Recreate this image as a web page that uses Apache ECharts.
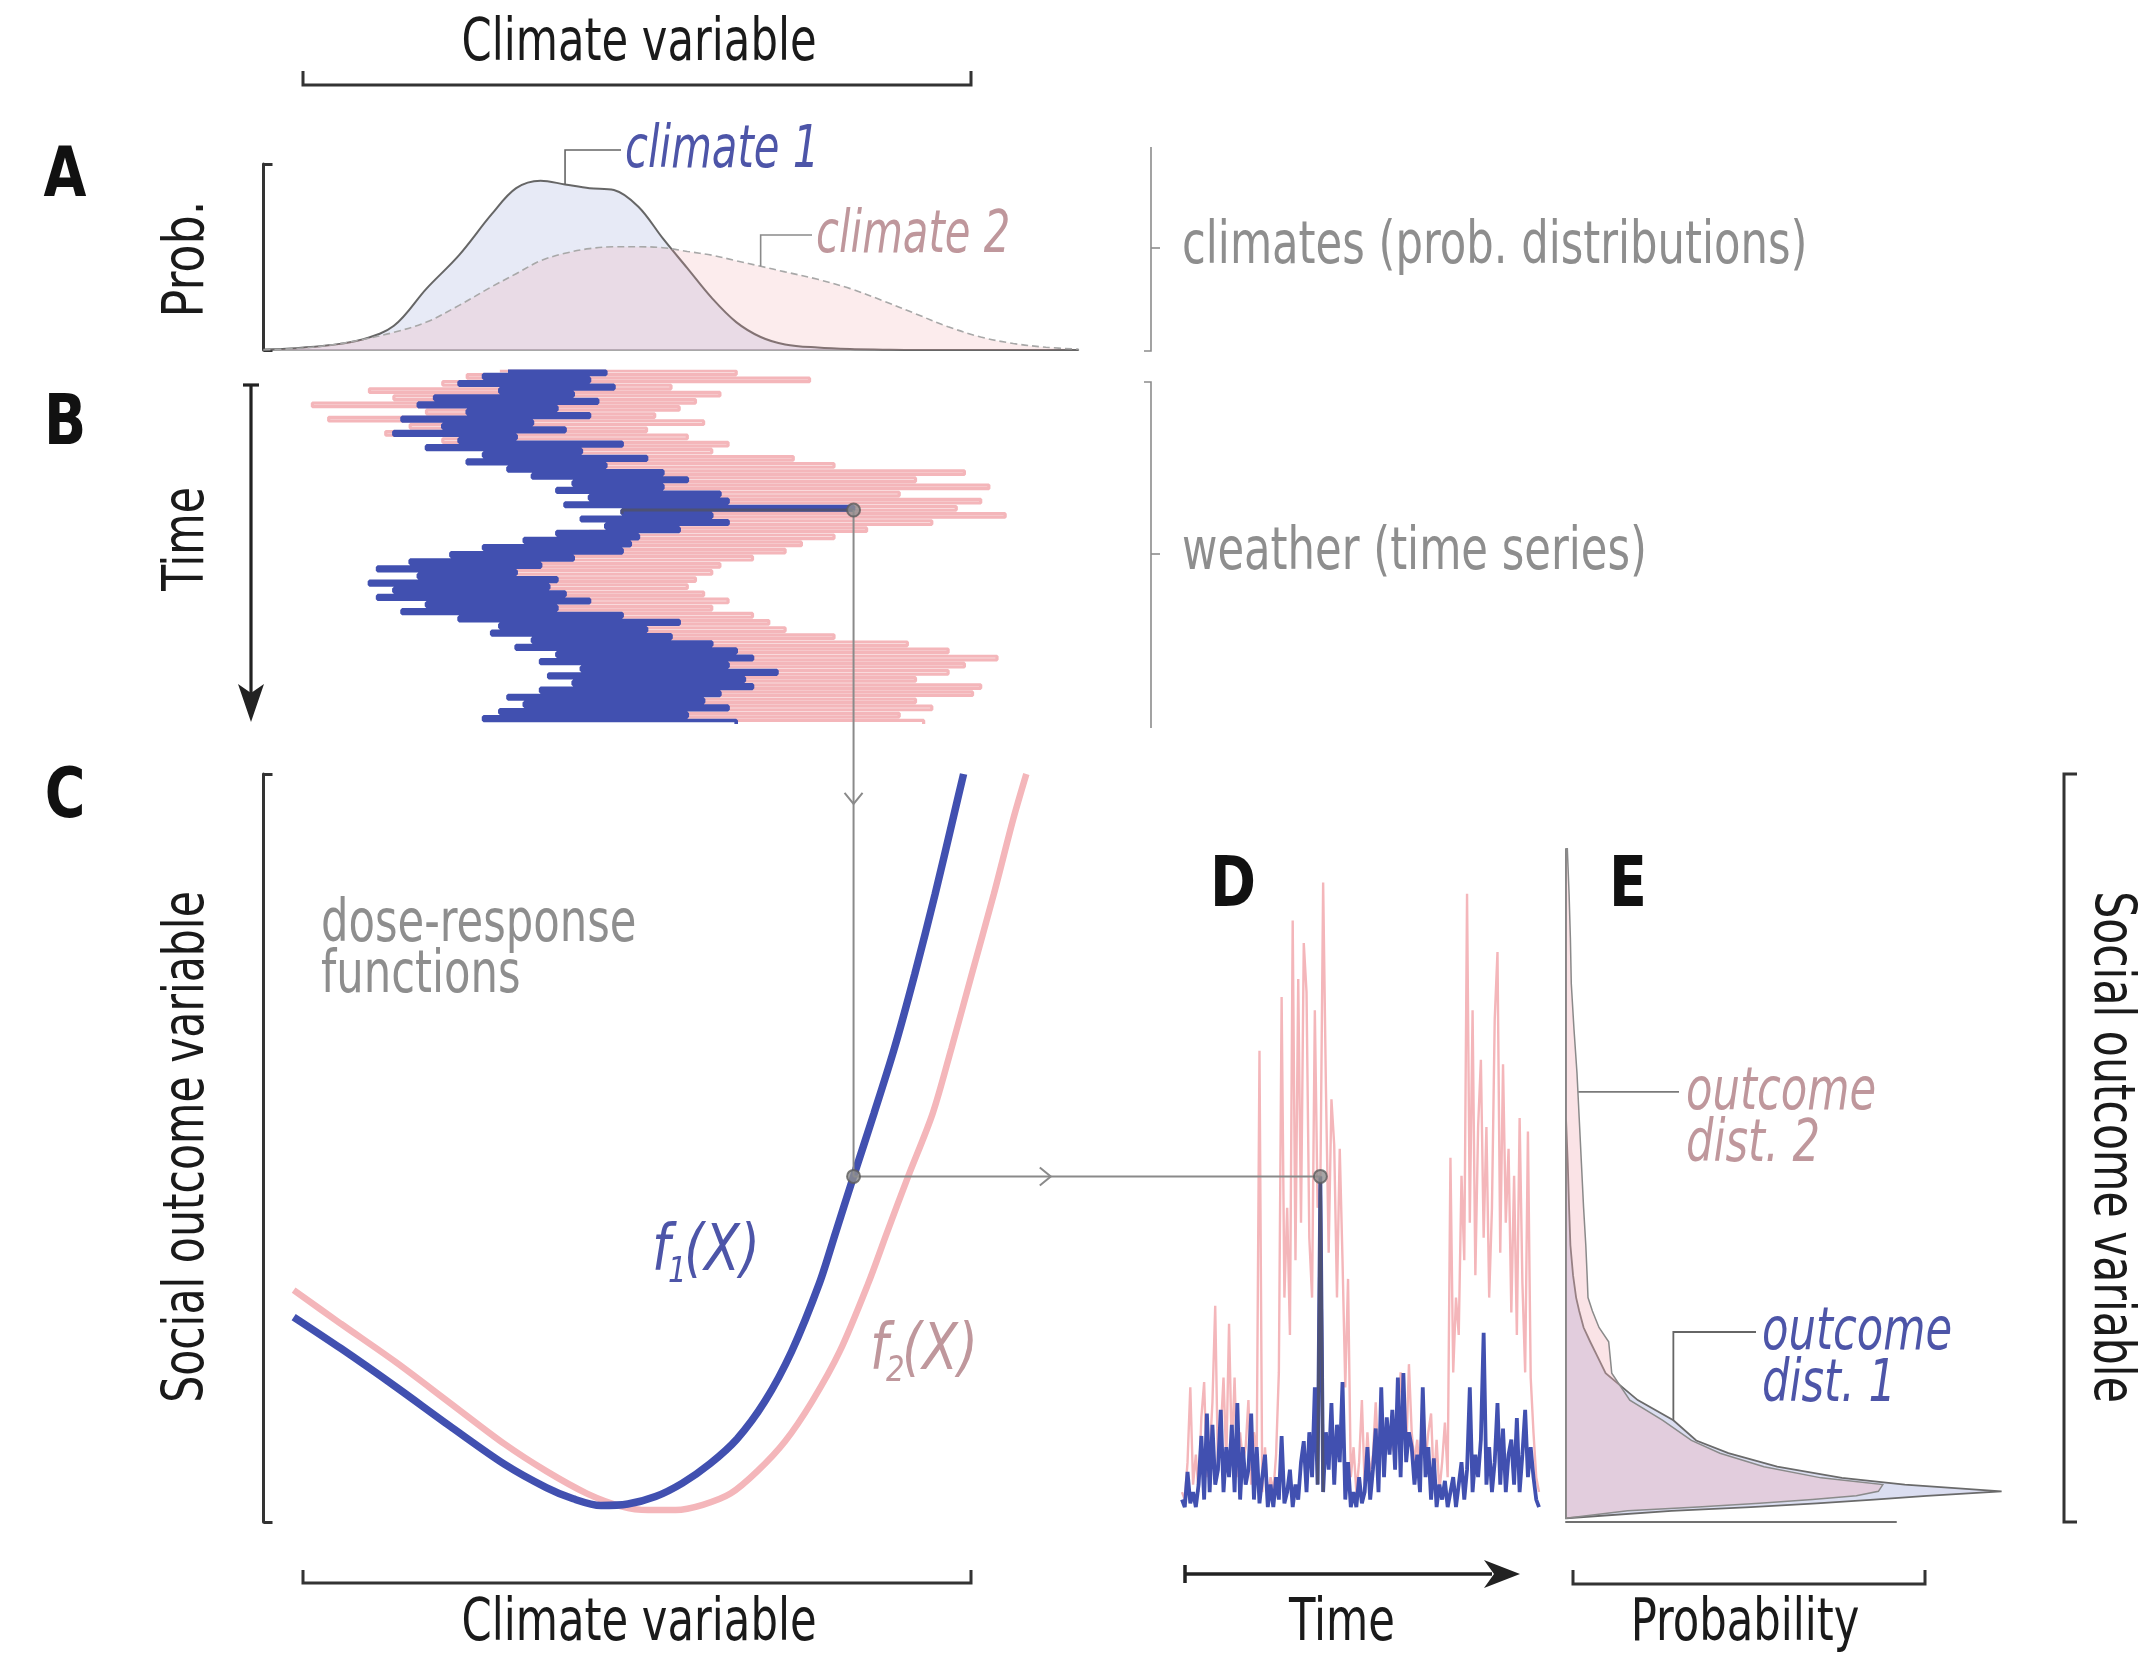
<!DOCTYPE html>
<html><head><meta charset="utf-8">
<script src="https://cdn.jsdelivr.net/npm/echarts@6/dist/echarts.min.js"></script>
<style>html,body{margin:0;padding:0;background:#fff}#c{width:2141px;height:1659px}</style>
</head><body><div id="c"></div>
<script>
// ---------- DATA ----------
// Panel A: climate probability distributions (climate variable 0-100, prob 0-100)
const climateX = [0,4,8,12,16,20,24,28,31,34,37,40,43,46,49,52,55,58,61,64,68,72,76,80,84,88,92,96,100];
const climate1 = [0.3,1,2.5,5.5,13,33,51,73,87,91,89,87,86,77,60,44,28,15,7,3,1.3,0.5,0.2,0,0,0,0,0,0];
const climate2 = [0,0.8,2.5,5.5,9.5,15,24,34,41,48,52,54.5,55.5,55.5,55,53,51,48,45,42,38,33,26.5,19.5,12.5,7,3.5,1.5,0.5];

// Panel B: weather time series (climate variable at time steps 0..99)
const weather1 = [30,42,27,40,24,43,29,38,21,41, 19,36,25,40,17,33,22,37,16,31,
  24,44,20,39,27,47,25,42,30,49, 33,52,38,49,36,56,40,57,37,72.4,
  44,55,39,57,42,51,36,46,32,45, 27,44,23,38,18,34,14,31,19,36,
  13,35,16,37,14,40,20,36,17,44, 24,51,29,47,28,50,33,55,31,58,
  36,60,34,57,39,63,35,59,38,60, 34,56,30,54,32,57,29,52,27,58];
const weather2 = [29,58,25,67,22,50,13,56,16,53, 6,51,20,48,8,54,18,47,15,52,
  22,57,26,55,28,65,31,70,34,86, 40,80,45,89,42,78,47,88,44,85,
  50,91,46,82,43,74,40,70,36,66, 32,64,28,60,24,56,20,55,22,53,
  19,52,21,54,20,57,25,55,27,60, 30,62,33,64,36,70,38,79,41,84,
  44,90,42,86,45,84,43,80,46,88, 42,87,40,80,44,82,38,78,41,81];

// Panel C: dose-response functions (climate variable -> social outcome 0-100)
const f1X = [3.7,9.5,16.2,22.9,29.6,34.7,38.0,41.4,44.7,48.1,51.4,54.8,58.1,61.5,64.8,68.2,70.2,72.4,74.9,77.4,79.9,82.4,84.6,85.9];
const f1Y = [27.4,23.2,18.1,12.8,7.7,4.6,3.1,2.2,2.4,3.4,5.2,7.8,11.1,16.1,22.8,31.9,38.7,46.2,54.6,63.3,73.2,83.9,94.0,100];
const f2X = [3.7,9.5,16.2,22.9,29.6,34.7,39.7,43.9,47.2,50.6,53.9,57.3,60.6,64.0,67.3,70.7,74.2,76.5,79.1,82.1,84.4,86.9,89.6,92.0,93.6];
const f2Y = [31.0,26.5,21.4,15.9,10.4,6.8,3.8,2.1,1.6,1.6,2.3,3.8,6.8,10.8,16.1,22.8,31.9,38.7,46.2,54.6,63.3,73.2,83.9,94.0,100];

// Panel D: outcome time series (time steps 0..129)
const outcome1 = [3,2,6.7,2.5,4,2,5,11.5,3,14.5, 4,13,5,7,15,4,10,6,13,4,
  15.9,3,10,5,7,14.5,3,10,2.5,6, 9,2,5,2,6,3,11.5,2.5,4,7,
  2,5,3,8,10.8,4,12,6,18,5, 46.2,4,12,7,15.9,5,13,8,18.7,3,
  8,2,4,2,6,2.5,4,10,3,7, 12.5,4,18,6,14,9,15,7,19.3,6,
  19.9,8,12,10,5,9,4,18,6,10, 3,8.5,2,5,3,5.5,2,4,6,2,
  5,8,3,7,18,4,9,6,11,25.3, 5,10,4,8,15.9,5,12.5,4,9,11,
  5,13.9,4,9,15,6,10,6,3,2];
const outcome2 = [4,3,8,18,5,9,4,14,18.7,6, 9,16,28.9,7,12,19.3,8,26.5,9,19.3,
  6,12,8,10,16.3,5,12,9,63,4, 10,3,6,4,9,20,70.2,30,42,25,
  80.4,35,72.6,40,77.4,70.8,38,30,68.4,42, 45,85.5,58.2,36,56.5,50.4,30,49.9,35,18,
  32.5,6,10,4,8,16.3,5,12,6,9, 16,8,14,9,12,11,10,9,13,20,
  15,9,21.1,12,8,11,6,17.5,8,12, 14.5,5,11,4,8,13.3,6,48.7,20,30,
  25,46.3,35,84,40,68.4,33,52.8,61.8,38, 52.8,30,42,67.2,76.2,36,61.2,40,49.9,28,
  46.3,25,54,32,20,52.2,19.3,12,6,4];

// Panel E: outcome distributions (outcome level -> probability)
const outcomeLevels = [0.5,1.5,2.0,2.5,3.0,3.5,4.1,5.0,5.9,7.4,9.2,10.9,13.6,16.3,19.9,22.3,24.1,26,28.2,30,33,37,42,48,54,60,66,72,78,84,90];
const dist1 = [0,24,42,57,70,82,99,77,62.7,48,36.9,29.6,24.4,16.3,9,7,5.5,4,3,2.3,1.6,1,0.7,0.4,0,0,0,0,0,0,0];
const dist2 = [0,14,30,44,56,66,71,72,58,45,35,28.5,22,14.5,10.4,10,9.7,7.5,6,5,4.8,4.5,4,3.5,3,2.5,1.8,1.2,1,0.7,0.3];

// highlighted sample
const pickT = 39;                       // time step in B
const pickX = weather1[pickT];          // climate value
const pickY = f1Y[f1X.indexOf(pickX)];  // f1 response
const pickD = 50;                       // time step in D (outcome1[pickD] === pickY)

// ---------- STYLE ----------
const FF = "'Liberation Sans Narrow','Arial Narrow','DejaVu Sans Condensed',sans-serif";
const BLUE = '#4150b0', PINK = '#f4b6ba', DARK = '#333333', GRAY = '#8e8e8e';
const BLUE_T = '#4d55a8', PINK_T = '#bf979c';
const SX = 0.83; // horizontal compression to mimic condensed typeface

const chart = echarts.init(document.getElementById('c'));
function ax(gi, min, max, extra) {
  return Object.assign({gridIndex: gi, type: 'value', min: min, max: max,
    axisLine: {show: false}, axisTick: {show: false}, axisLabel: {show: false}, splitLine: {show: false}}, extra || {});
}
const bracketAxis = (off) => ({interval: 100, offset: off,
  axisLine: {show: true, lineStyle: {color: DARK, width: 3}},
  axisTick: {show: true, inside: true, length: 9, lineStyle: {color: DARK, width: 3}}});

function distSeries(vals, fill, stroke, lw, z) {
  return {type: 'custom', xAxisIndex: 4, yAxisIndex: 4, z: z, clip: false, silent: true,
    data: outcomeLevels.map((u, i) => [vals[i], u]),
    renderItem: function (params, api) {
      if (params.dataIndex !== 0) return null;
      const pts = [api.coord([0, outcomeLevels[0]])];
      for (let i = 0; i < outcomeLevels.length; i++) pts.push(api.coord([vals[i], outcomeLevels[i]]));
      pts.push(api.coord([0, outcomeLevels[outcomeLevels.length - 1]]));
      return {type: 'polygon', shape: {points: pts}, style: {fill: fill, stroke: stroke, lineWidth: lw}};
    }};
}
const pointStyle = {color: '#8f8f8f', borderColor: '#5c5c5c', borderWidth: 2};

const option = {
  animation: false,
  backgroundColor: '#ffffff',
  grid: [
    {left: 263.5, top: 164, width: 815, height: 186},
    {left: 263.5, top: 371, width: 815, height: 353},
    {left: 263.5, top: 774, width: 815, height: 748},
    {left: 1182, top: 774, width: 357, height: 748},
    {left: 1566, top: 774, width: 330, height: 748}
  ],
  xAxis: [
    ax(0, 0, 100, {axisLine: {show: true, lineStyle: {color: '#8c8c8c', width: 1.5}}}),
    ax(1, 0, 100),
    ax(2, 0, 100),
    ax(3, 0, 129),
    ax(4, 0, 75, {axisLine: {show: true, lineStyle: {color: '#707070', width: 2}}})
  ],
  yAxis: [
    ax(0, 0, 100, bracketAxis(12)),
    ax(1, 0, 99, {inverse: true}),
    ax(2, 0, 100, bracketAxis(15)),
    ax(3, 0, 100),
    ax(4, 0, 100)
  ],
  series: [
    // A
    {type: 'line', xAxisIndex: 0, yAxisIndex: 0, z: 2, smooth: 0.35, showSymbol: false, silent: true,
      data: climateX.map((x, i) => [x, climate1[i]]),
      lineStyle: {color: '#666', width: 2}, areaStyle: {color: 'rgba(175,185,225,0.42)'}},
    {type: 'line', xAxisIndex: 0, yAxisIndex: 0, z: 3, smooth: 0.35, showSymbol: false, silent: true,
      data: climateX.map((x, i) => [x, climate2[i]]),
      lineStyle: {color: '#a8a8a8', width: 1.6, type: [7, 4]}, areaStyle: {color: 'rgba(240,165,172,0.30)'}},
    // B (weather drawn as horizontal strokes per time step)
    {type: 'line', xAxisIndex: 1, yAxisIndex: 1, z: 2, step: 'end', showSymbol: false, silent: true,
      data: weather2.map((v, i) => [v, i]), lineStyle: {color: PINK, width: 3.2}},
    {type: 'line', xAxisIndex: 1, yAxisIndex: 1, z: 3, step: 'end', showSymbol: false, silent: true,
      data: weather1.map((v, i) => [v, i]), lineStyle: {color: BLUE, width: 3.6}},
    {type: 'line', xAxisIndex: 1, yAxisIndex: 1, z: 4, step: 'end', showSymbol: false, silent: true,
      data: [[pickX, pickT], [weather1[pickT + 1], pickT + 1]], lineStyle: {color: '#4d5175', width: 3}},
    {type: 'scatter', xAxisIndex: 1, yAxisIndex: 1, z: 10, symbolSize: 13, silent: true,
      data: [[pickX, pickT]], itemStyle: pointStyle},
    // C
    {type: 'line', xAxisIndex: 2, yAxisIndex: 2, z: 2, smooth: 0.3, showSymbol: false, silent: true,
      data: f2X.map((x, i) => [x, f2Y[i]]), lineStyle: {color: PINK, width: 6.5}},
    {type: 'line', xAxisIndex: 2, yAxisIndex: 2, z: 3, smooth: 0.3, showSymbol: false, silent: true,
      data: f1X.map((x, i) => [x, f1Y[i]]), lineStyle: {color: BLUE, width: 7.5}},
    {type: 'scatter', xAxisIndex: 2, yAxisIndex: 2, z: 10, symbolSize: 13, silent: true,
      data: [[pickX, pickY]], itemStyle: pointStyle},
    // D
    {type: 'line', xAxisIndex: 3, yAxisIndex: 3, z: 2, showSymbol: false, silent: true,
      data: outcome2.map((v, i) => [i, v]), lineStyle: {color: PINK, width: 2.4}},
    {type: 'line', xAxisIndex: 3, yAxisIndex: 3, z: 3, showSymbol: false, silent: true,
      data: outcome1.map((v, i) => [i, v]), lineStyle: {color: BLUE, width: 3.8}},
    {type: 'line', xAxisIndex: 3, yAxisIndex: 3, z: 4, showSymbol: false, silent: true,
      data: [[pickD - 1, outcome1[pickD - 1]], [pickD, outcome1[pickD]], [pickD + 1, outcome1[pickD + 1]]],
      lineStyle: {color: '#4d5175', width: 3}},
    {type: 'scatter', xAxisIndex: 3, yAxisIndex: 3, z: 10, symbolSize: 13, silent: true,
      data: [[pickD, outcome1[pickD]]], itemStyle: pointStyle},
    // E
    distSeries(dist1, 'rgba(180,186,226,0.48)', '#6a6a6a', 1.8, 2),
    distSeries(dist2, 'rgba(240,172,182,0.34)', '#8a8a8a', 1.5, 3)
  ]
};
chart.setOption(option);

// ---------- ANNOTATIONS ----------
const G = [];
function pl(pts, color, w, z) { G.push({type: 'polyline', z: z || 20, silent: true, shape: {points: pts}, style: {stroke: color, lineWidth: w, fill: null}}); }
function pg(pts, color) { G.push({type: 'polygon', z: 20, silent: true, shape: {points: pts}, style: {fill: color}}); }
function tx(x, y, s, o) {
  G.push({type: 'text', x: x, y: y, rotation: o.rot || 0, scaleX: o.sx || SX, z: 20, silent: true,
    style: {text: s, fill: o.color || '#1a1a1a', fontSize: o.size || 57, fontFamily: FF,
      fontWeight: o.weight || 'normal', fontStyle: o.style || 'normal',
      align: o.align || 'left', verticalAlign: 'middle'}});
}
const px = (gi, v) => chart.convertToPixel({gridIndex: gi}, v);

// top title + bracket
tx(639, 45, 'Climate variable', {align: 'center', size: 58});
pl([[303, 71], [303, 85], [971, 85], [971, 71]], DARK, 3);
// panel letters
const L = {align: 'center', size: 70, weight: 'bold', sx: 0.88, color: '#111'};
tx(65, 178, 'A', L);
tx(65, 426, 'B', L);
tx(65, 799, 'C', L);
tx(1233, 888, 'D', L);
tx(1628, 888, 'E', L);
// left axis titles
tx(188, 259, 'Prob.', {align: 'center', rot: Math.PI / 2, sx: 0.9});
tx(188, 539, 'Time', {align: 'center', rot: Math.PI / 2});
tx(188, 1147, 'Social outcome variable', {align: 'center', rot: Math.PI / 2});
// time arrow (B)
pl([[251, 385], [251, 700]], '#222', 3.2);
pl([[243, 385], [259, 385]], '#222', 3.2);
pg([[238, 684], [251, 693], [264, 684], [251, 722]], '#222');
// right-side brackets A/B
pl([[1144, 351], [1151, 351], [1151, 147]], '#8c8c8c', 1.6);
pl([[1151, 248], [1160, 248]], '#8c8c8c', 1.6);
pl([[1144, 382], [1151, 382], [1151, 728]], '#8c8c8c', 1.6);
pl([[1151, 554], [1160, 554]], '#8c8c8c', 1.6);
tx(1182, 248, 'climates (prob. distributions)', {color: GRAY, size: 58});
tx(1182, 554, 'weather (time series)', {color: GRAY, size: 58});
// C texts
tx(321, 926, 'dose-response', {color: GRAY, size: 58});
tx(321, 977, 'functions', {color: GRAY, size: 58});
tx(652, 1253, 'f', {color: BLUE_T, size: 64, style: 'italic', sx: 0.9});
tx(668, 1273, '1', {color: BLUE_T, size: 36, style: 'italic', sx: 0.9});
tx(684, 1253, '(X)', {color: BLUE_T, size: 64, style: 'italic', sx: 0.9});
tx(870, 1352, 'f', {color: PINK_T, size: 64, style: 'italic', sx: 0.9});
tx(886, 1372, '2', {color: PINK_T, size: 36, style: 'italic', sx: 0.9});
tx(902, 1352, '(X)', {color: PINK_T, size: 64, style: 'italic', sx: 0.9});
// C bottom bracket
pl([[303, 1570], [303, 1583], [971, 1583], [971, 1570]], DARK, 3);
tx(639, 1625, 'Climate variable', {align: 'center', size: 58});
// D time arrow
pl([[1185, 1574], [1492, 1574]], '#222', 3.5);
pl([[1185, 1565], [1185, 1583]], '#222', 3.5);
pg([[1484, 1560], [1520, 1574], [1484, 1588], [1494, 1574]], '#222');
tx(1342, 1625, 'Time', {align: 'center', size: 58});
// E probability bracket
pl([[1573, 1570], [1573, 1584], [1925, 1584], [1925, 1570]], DARK, 3);
tx(1745, 1625, 'Probability', {align: 'center', size: 58});
// right bracket + label
pl([[2077, 774], [2064, 774], [2064, 1522], [2077, 1522]], DARK, 3);
tx(2110, 1147, 'Social outcome variable', {align: 'center', rot: -Math.PI / 2});

// A leaders
const a1 = px(0, [climateX[10], climate1[10]]);
pl([a1, [a1[0], 150], [621, 150]], '#666', 1.6);
tx(625, 152, 'climate 1', {color: BLUE_T, style: 'italic', size: 58, sx: 0.8});
const a2 = px(0, [climateX[18], climate2[18]]);
pl([a2, [a2[0], 235], [812, 235]], '#8a8a8a', 1.6);
tx(816, 237, 'climate 2', {color: PINK_T, style: 'italic', size: 58, sx: 0.8});
// E leaders
const e1 = px(4, [dist1[12], outcomeLevels[12]]);
pl([e1, [e1[0], 1332], [1756, 1332]], '#666', 1.8);
tx(1762, 1334, 'outcome', {color: BLUE_T, style: 'italic', size: 58});
tx(1762, 1386, 'dist. 1', {color: BLUE_T, style: 'italic', size: 58});
const e2 = px(4, [2.8, 57.5]);
pl([e2, [1679, e2[1]]], '#7a7a7a', 1.6);
tx(1686, e2[1] + 2, 'outcome', {color: PINK_T, style: 'italic', size: 58});
tx(1686, e2[1] + 54, 'dist. 2', {color: PINK_T, style: 'italic', size: 58});

// connectors between panels
const pB = px(1, [pickX, pickT]);
const pC = px(2, [pickX, pickY]);
const pD = px(3, [pickD, outcome1[pickD]]);
pl([pB, pC], '#8a8a8a', 2, 5);
pl([pC, pD], '#8a8a8a', 2, 5);
const cy = px(2, [pickX, 96])[1];
pl([[pB[0] - 9, cy - 11], [pB[0], cy], [pB[0] + 9, cy - 11]], '#8a8a8a', 2, 5);
const cx = px(2, [96.6, pickY])[0];
pl([[cx - 11, pC[1] - 9], [cx, pC[1]], [cx - 11, pC[1] + 9]], '#8a8a8a', 2, 5);

chart.setOption({graphic: {elements: G}});
</script>
</body></html>
